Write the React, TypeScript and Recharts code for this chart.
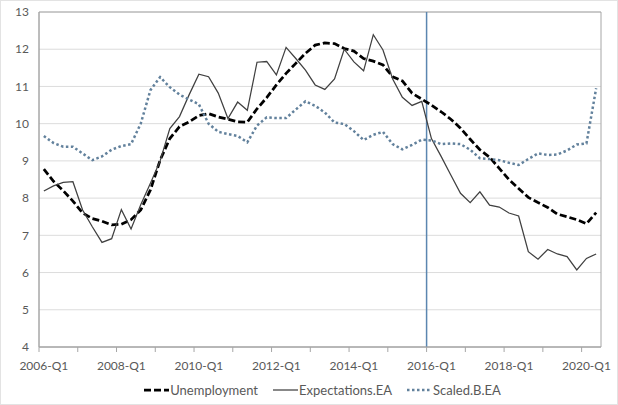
import { LineChart, Line, XAxis, YAxis, CartesianGrid, Legend, ReferenceLine, ReferenceArea } from 'recharts';

const years = [2006, 2007, 2008, 2009, 2010, 2011, 2012, 2013, 2014, 2015, 2016, 2017, 2018, 2019, 2020];
const quarters = years.flatMap((y) => ['Q1', 'Q2', 'Q3', 'Q4'].map((q) => `${y}-${q}`)).slice(0, 58);

const unemployment = [
  8.78, 8.45, 8.2, 7.92, 7.6, 7.45, 7.38, 7.28, 7.3, 7.42,
  7.68, 8.22, 9.02, 9.6, 9.92, 10.05, 10.22, 10.27, 10.18, 10.12,
  10.05, 10.04, 10.4, 10.7, 11.04, 11.35, 11.62, 11.89, 12.11, 12.17,
  12.15, 12.02, 11.95, 11.75, 11.68, 11.58, 11.26, 11.15, 10.82, 10.66,
  10.5, 10.32, 10.12, 9.88, 9.58, 9.3, 9.1, 8.8, 8.5, 8.26,
  8.02, 7.88, 7.75, 7.57, 7.5, 7.42, 7.31, 7.61,
];

const expectationsEA = [
  8.19, 8.33, 8.42, 8.44, 7.68, 7.23, 6.81, 6.91, 7.69, 7.17,
  7.82, 8.4, 9.0, 9.87, 10.19, 10.78, 11.33, 11.26, 10.82, 10.14,
  10.58, 10.36, 11.65, 11.67, 11.31, 12.05, 11.75, 11.44, 11.04, 10.92,
  11.2, 12.0, 11.66, 11.42, 12.39, 11.98, 11.2, 10.71, 10.49, 10.6,
  9.6, 9.12, 8.62, 8.13, 7.88, 8.17, 7.81, 7.76, 7.6, 7.52,
  6.56, 6.36, 6.62, 6.5, 6.43, 6.07, 6.38, 6.5,
];

const scaledBEA = [
  9.67, 9.48, 9.38, 9.38, 9.2, 9.02, 9.12, 9.3, 9.4, 9.45,
  10.0, 10.9, 11.25, 10.98, 10.78, 10.65, 10.52, 10.0, 9.78, 9.72,
  9.67, 9.5, 9.95, 10.17, 10.15, 10.15, 10.38, 10.6, 10.48, 10.3,
  10.03, 9.99, 9.8, 9.56, 9.7, 9.78, 9.45, 9.31, 9.43, 9.57,
  9.55, 9.45, 9.47, 9.45, 9.3, 9.07, 9.05, 9.02, 8.95, 8.89,
  9.05, 9.2, 9.16, 9.17, 9.28, 9.44, 9.47, 10.95,
];

const yTicks = [4, 5, 6, 7, 8, 9, 10, 11, 12, 13];
// tick marks sit on the boundaries between quarters, every 4 quarters
const xTicks = [0, 4, 8, 12, 16, 20, 24, 28, 32, 36, 40, 44, 48, 52, 56];
const breakQuarter = '2016-Q1';

const data = quarters.map((q, i) => ({
  quarter: q,
  pos: i + 0.5,
  unemployment: unemployment[i],
  expectations: expectationsEA[i],
  scaled: scaledBEA[i],
}));

const FONT = 'Lato, "Open Sans", sans-serif';
const WIDTH = 618;
const HEIGHT = 405;
const MARGIN = { top: 12, right: 17, left: 0, bottom: 5 };
const Y_AXIS_W = 39;
const halfBand = (WIDTH - MARGIN.right - Y_AXIS_W) / quarters.length / 2;

const series = [
  { key: 'unemployment', name: 'Unemployment', stroke: '#000000', width: 2.75, dash: '7 3' },
  { key: 'expectations', name: 'Expectations.EA', stroke: '#404040', width: 1.25, dash: undefined },
  { key: 'scaled', name: 'Scaled.B.EA', stroke: '#62819c', width: 2.5, dash: '2.5 2.5' },
];

// labels every 8 quarters, centred on the quarter just right of the tick mark
function QuarterTick(props: any) {
  const { y, payload } = props;
  const idx = Number(payload.value);
  if (idx % 8 !== 0) return null;
  const cx = Number(payload.coordinate) + halfBand;
  return (
    <text x={cx} y={y} dy="0.71em" textAnchor="middle" fill="#595959" fontSize={12} fontFamily={FONT}>
      {quarters[idx]}
    </text>
  );
}

function LegendContent() {
  return (
    <div
      style={{
        display: 'flex',
        justifyContent: 'center',
        alignItems: 'center',
        height: 20,
        fontFamily: FONT,
        fontSize: 13,
        color: '#595959',
        paddingLeft: 44,
        boxSizing: 'border-box',
      }}
    >
      {series.map((s, i) => (
        <span key={s.key} style={{ display: 'flex', alignItems: 'center', marginLeft: i === 0 ? 0 : 15 }}>
          <svg width={25} height={10} style={{ marginRight: 1 }}>
            <line x1={0} y1={5} x2={25} y2={5} stroke={s.stroke} strokeWidth={s.width} strokeDasharray={s.dash} />
          </svg>
          <span>{s.name}</span>
        </span>
      ))}
    </div>
  );
}

export default function App() {
  return (
    <div
      style={{
        position: 'absolute',
        left: 0,
        top: 0,
        width: WIDTH,
        height: HEIGHT,
        background: '#ffffff',
        border: '1px solid #e3e3e3',
        boxSizing: 'border-box',
      }}
    >
      <div style={{ position: 'absolute', left: -1, top: -1 }}>
        <LineChart width={WIDTH} height={HEIGHT} data={data} margin={MARGIN}>
          <CartesianGrid horizontal vertical={false} stroke="#dcdcdc" />
          <XAxis
            type="number"
            dataKey="pos"
            domain={[0, quarters.length]}
            ticks={xTicks}
            interval={0}
            tick={<QuarterTick />}
            tickSize={5}
            tickMargin={9}
            height={33}
            axisLine={{ stroke: '#a6a6a6' }}
            tickLine={{ stroke: '#a6a6a6' }}
            allowDataOverflow
          />
          <YAxis
            domain={[4, 13]}
            ticks={yTicks}
            width={Y_AXIS_W}
            tickLine={false}
            tickSize={0}
            tickMargin={10}
            axisLine={{ stroke: '#a6a6a6' }}
            tick={{ fill: '#595959', fontSize: 12, fontFamily: FONT }}
          />
          <ReferenceArea x1={0} x2={quarters.length} y1={4} y2={13} fill="none" stroke="#a6a6a6" strokeWidth={1} ifOverflow="visible" />
          <ReferenceLine x={quarters.indexOf(breakQuarter)} stroke="#5b86b0" strokeWidth={1.5} />
          {series.map((s) => (
            <Line
              key={s.key}
              type="linear"
              dataKey={s.key}
              name={s.name}
              stroke={s.stroke}
              strokeWidth={s.width}
              strokeDasharray={s.dash}
              dot={false}
              activeDot={false}
              isAnimationActive={false}
            />
          ))}
          <Legend verticalAlign="bottom" height={20} content={<LegendContent />} />
        </LineChart>
      </div>
    </div>
  );
}
